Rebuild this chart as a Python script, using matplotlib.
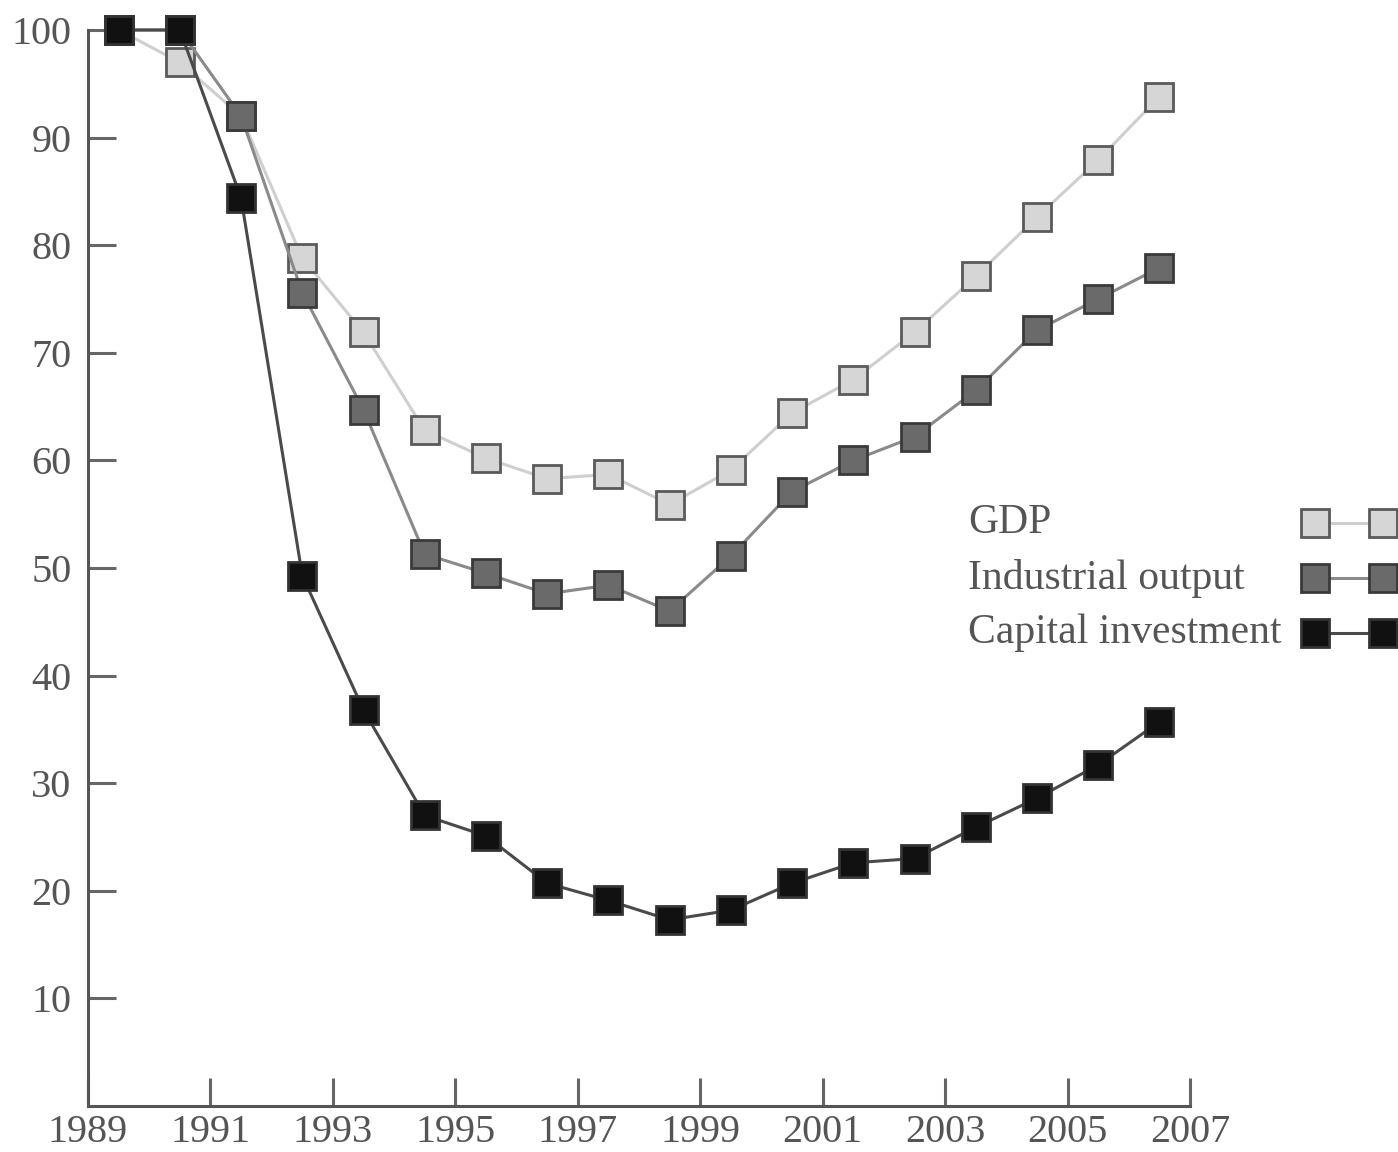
import matplotlib
matplotlib.use("Agg")
import matplotlib.pyplot as plt
from matplotlib.lines import Line2D

years = [1989.5 + i for i in range(18)]
gdp = [100, 97, 92, 78.8, 71.9, 62.8, 60.2, 58.3, 58.7, 55.9, 59.1, 64.4, 67.5, 71.9, 77.1, 82.6, 87.9, 93.8]
industrial = [100, 100, 92, 75.6, 64.7, 51.3, 49.5, 47.6, 48.4, 46.0, 51.1, 57.1, 60.0, 62.2, 66.5, 72.1, 75.0, 77.9]
capital = [100, 100, 84.4, 49.3, 36.8, 27.0, 25.1, 20.7, 19.1, 17.3, 18.2, 20.7, 22.6, 23.0, 25.9, 28.6, 31.7, 35.7]
series_names = ["GDP", "Industrial output", "Capital investment"]
xticks = list(range(1989, 2008, 2))
yticks = list(range(10, 101, 10))

plt.rcParams['font.family'] = ['Liberation Serif', 'DejaVu Serif']

W, H = 1398, 1152
fig = plt.figure(figsize=(W / 100, H / 100), dpi=100)
ax = fig.add_axes([88/W, 1 - 1106/H, (1190-88)/W, (1106-30)/H])

styles = [
    dict(color="#cfcfcf", mfc="#d6d6d6", mec="#5a5a5a", z=3),
    dict(color="#8a8a8a", mfc="#6a6a6a", mec="#3a3a3a", z=4),
    dict(color="#4a4a4a", mfc="#111111", mec="#333333", z=5),
]
for vals, st in zip([gdp, industrial, capital], styles):
    ax.plot(years, vals, color=st["color"], lw=2.2, zorder=st["z"], clip_on=False)
    ax.plot(years, vals, ls="none", marker="s", ms=20, mfc=st["mfc"], mec=st["mec"], mew=2.0,
            zorder=st["z"] + 0.5, clip_on=False)

ax.set_xlim(1989, 2007)
ax.set_ylim(0, 100)
ax.set_xticks(xticks)
ax.set_yticks(yticks)
for s in ["top", "right"]:
    ax.spines[s].set_visible(False)
for s in ["left", "bottom"]:
    ax.spines[s].set_color("#555555")
    ax.spines[s].set_linewidth(2.2)
ax.tick_params(axis="both", direction="in", length=20, width=2.2, color="#666666",
               labelsize=29, labelcolor="#555555")
ax.tick_params(axis="y", pad=12)
ax.tick_params(axis="x", pad=6)

# legend: labels left-aligned, keys (two markers joined by a line) on the right
legend_rows_y = [523, 578, 633]
for name, st, ry in zip(series_names, styles, legend_rows_y):
    yf = 1 - ry / H
    fig.text(968 / W, yf, name, fontsize=30, color="#555555", ha="left", va="center")
    key = Line2D([1315 / W, 1383 / W], [yf, yf], transform=fig.transFigure,
                 color=st["color"], lw=2.2, marker="s", ms=20,
                 mfc=st["mfc"], mec=st["mec"], mew=2.0, clip_on=False)
    fig.add_artist(key)

fig.savefig("out.png", dpi=100)
